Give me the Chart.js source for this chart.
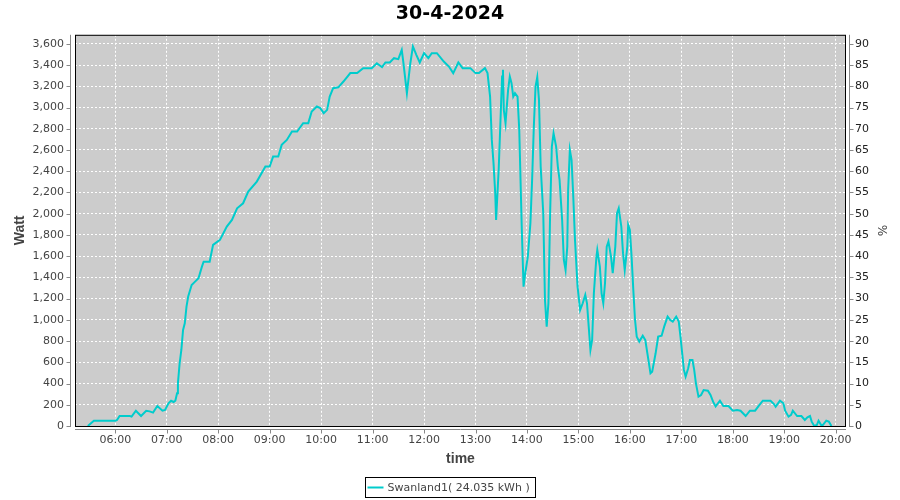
<!DOCTYPE html>
<html>
<head>
<meta charset="utf-8">
<script src="https://cdn.jsdelivr.net/npm/chart.js@4.4.1/dist/chart.umd.min.js"></script>
<style>
  html, body { margin: 0; padding: 0; background: #fff; }
  #wrap { width: 900px; height: 500px; }
</style>
</head>
<body>
<div id="wrap"><canvas id="powerChart" width="900" height="500"></canvas></div>
<script>
const chartTitle = '30-4-2024';
const seriesName = 'Swanland1( 24.035 kWh )';

// sample times (HH:MM) and the power read at each one
const times = [
  '05:28','05:35','06:00','06:02','06:05','06:17','06:19','06:24','06:30','06:36','06:40','06:44','06:49','06:55','06:58',
  '07:02','07:05','07:08','07:10','07:12','07:13','07:15','07:17','07:19','07:21','07:23','07:25','07:29','07:33','07:37',
  '07:41','07:43','07:50','07:54','08:02','08:10','08:16','08:22','08:29','08:35','08:45','08:55','09:00','09:04','09:10',
  '09:14','09:20','09:26','09:32','09:39','09:45','09:49','09:55','09:59','10:03','10:07','10:10','10:14','10:20','10:26',
  '10:34','10:42','10:49','10:59','11:05','11:11','11:15','11:20','11:25','11:30','11:34','11:36','11:40','11:44','11:47',
  '11:51','11:55','12:00','12:05','12:09','12:15','12:23','12:29','12:34','12:40','12:45','12:54','13:00','13:04','13:11',
  '13:14','13:17','13:19','13:21','13:23','13:24','13:27','13:29','13:31','13:32','13:33','13:35','13:38','13:40','13:42',
  '13:44','13:46','13:49','13:51','13:53','13:54','13:56','13:58','14:01','14:04','14:06','14:08','14:10','14:12','14:14',
  '14:16','14:19','14:21','14:23','14:25','14:27','14:29','14:31','14:34','14:36','14:38','14:41','14:43','14:45','14:47',
  '14:48','14:50','14:52','14:54','14:56','14:59','15:02','15:05','15:08','15:10','15:12','15:14','15:16','15:18','15:21',
  '15:22','15:25','15:27','15:29','15:31','15:33','15:35','15:38','15:40','15:43','15:45','15:47','15:50','15:52','15:54',
  '15:57','15:58','16:00','16:02','16:04','16:06','16:08','16:11','16:15','16:18','16:21','16:24','16:26','16:30','16:33',
  '16:37','16:40','16:44','16:47','16:50','16:54','16:57','16:59','17:01','17:03','17:05','17:08','17:10','17:13','17:15',
  '17:17','17:20','17:23','17:26','17:31','17:34','17:37','17:40','17:45','17:49','17:55','18:00','18:05','18:09','18:15',
  '18:20','18:26','18:30','18:35','18:44','18:48','18:50','18:55','18:59','19:01','19:05','19:08','19:10','19:15','19:20',
  '19:24','19:27','19:30','19:32','19:35','19:38','19:40','19:43','19:45','19:49','19:52','19:55'
];
const watts = [
  0, 50, 50, 57, 94, 94, 88, 144, 94, 144, 138, 126, 188, 144, 151,
  214, 238, 226, 238, 308, 402, 591, 716, 905, 968, 1124, 1219, 1329, 1360, 1392,
  1501, 1548, 1548, 1706, 1753, 1878, 1941, 2051, 2098, 2208, 2302, 2444, 2444, 2538, 2538,
  2648, 2695, 2774, 2774, 2853, 2853, 2962, 3009, 2994, 2947, 2978, 3103, 3182, 3190, 3245,
  3324, 3324, 3371, 3371, 3417, 3380, 3424, 3424, 3465, 3456, 3543, 3417, 3135, 3417, 3575,
  3496, 3424, 3512, 3465, 3512, 3512, 3433, 3386, 3324, 3424, 3371, 3371, 3324, 3324, 3371,
  3324, 3103, 2695, 2476, 2193, 1940, 2412, 2853, 3292, 3355, 2978, 2853, 3166, 3292, 3229,
  3103, 3135, 3103, 2790, 2161, 1847, 1313, 1439, 1596, 1910, 2318, 2821, 3198, 3286, 3072,
  2444, 2004, 1187, 936, 1156, 2004, 2632, 2758, 2632, 2444, 2318, 1941, 1564, 1470, 1690,
  2224, 2601, 2507, 2161, 1753, 1313, 1093, 1156, 1235, 1156, 936, 716, 810, 1250, 1596,
  1659, 1501, 1250, 1156, 1345, 1690, 1737, 1596, 1439, 1690, 2004, 2051, 1878, 1628, 1470,
  1690, 1894, 1847, 1596, 1282, 999, 842, 795, 851, 810, 653, 497, 512, 685, 842,
  851, 936, 1030, 999, 983, 1030, 983, 842, 685, 528, 465, 544, 622, 622, 528,
  402, 276, 292, 339, 333, 292, 229, 185, 238, 188, 188, 144, 151, 144, 94,
  144, 144, 188, 238, 238, 207, 182, 238, 214, 144, 88, 104, 144, 94, 94,
  57, 82, 94, 41, 0, 9, 50, 9, 9, 50, 41, 0
];

const hourTicks = ['06:00','07:00','08:00','09:00','10:00','11:00','12:00','13:00','14:00','15:00','16:00','17:00','18:00','19:00','20:00'];

// axis ranges
const timeStart = '05:13';
const timeEnd = '20:12';
const wattMax = 3685;
const wattPerPercent = 40;   // right axis: 3600 W = 90 %

function toMinutes(hhmm) {
  const parts = hhmm.split(':');
  return parseInt(parts[0]) * 60 + parseInt(parts[1]);
}

function minutesToLabel(m) {
  const h = Math.floor(m / 60);
  const mm = Math.round(m % 60);
  return String(h).padStart(2, '0') + ':' + String(mm).padStart(2, '0');
}

const points = times.map((t, i) => ({ x: toMinutes(t), y: watts[i] }));

const LINE_COLOR = '#00cccc';
const AXIS_GRAY = '#888888';
const TICK_FONT = { family: 'DejaVu Sans', size: 11 };

// gray plot background, black frame, detached axis lines and the boxed legend
const plotDecor = {
  id: 'plotDecor',
  beforeDraw(chart) {
    const { ctx, chartArea: a } = chart;
    ctx.save();
    ctx.fillStyle = '#cccccc';
    ctx.fillRect(a.left, a.top, a.right - a.left, a.bottom - a.top);
    ctx.restore();
  },
  afterDatasetsDraw(chart) {
    const { ctx, chartArea: a } = chart;
    ctx.save();
    ctx.strokeStyle = '#000';
    ctx.lineWidth = 1;
    ctx.strokeRect(a.left + 0.5, a.top + 0.5, a.right - a.left - 1, a.bottom - a.top);
    ctx.restore();
  },
  afterDraw(chart) {
    const { ctx, chartArea: a, scales } = chart;
    ctx.save();
    ctx.strokeStyle = AXIS_GRAY;
    ctx.lineWidth = 1;
    ctx.beginPath();
    // left axis
    const lx = a.left - 4.5;
    ctx.moveTo(lx, a.top); ctx.lineTo(lx, a.bottom + 1);
    scales.y.ticks.forEach(t => {
      const py = Math.round(scales.y.getPixelForValue(t.value)) + 0.5;
      ctx.moveTo(lx - 4, py); ctx.lineTo(lx, py);
    });
    // right axis
    const rx = a.right + 3.5;
    ctx.moveTo(rx, a.top); ctx.lineTo(rx, a.bottom + 1);
    scales.y2.ticks.forEach(t => {
      const py = Math.round(scales.y2.getPixelForValue(t.value)) + 0.5;
      ctx.moveTo(rx, py); ctx.lineTo(rx + 4, py);
    });
    // bottom axis
    const by = a.bottom + 3.5;
    ctx.moveTo(a.left, by); ctx.lineTo(a.right, by);
    scales.x.ticks.forEach(t => {
      const px = Math.round(scales.x.getPixelForValue(t.value)) + 0.5;
      ctx.moveTo(px, by); ctx.lineTo(px, by + 4);
    });
    ctx.stroke();

    // legend
    const label = chart.data.datasets[0].label;
    ctx.font = '11px "DejaVu Sans"';
    const textW = ctx.measureText(label).width;
    const boxW = Math.round(3 + 16 + 4 + textW + 5);
    const boxH = 20;
    const bx = Math.round(450 - boxW / 2) + 0.5;
    const byTop = 477.5;
    ctx.strokeStyle = '#000';
    ctx.strokeRect(bx, byTop, boxW, boxH);
    ctx.strokeStyle = LINE_COLOR;
    ctx.lineWidth = 2;
    ctx.beginPath();
    ctx.moveTo(bx + 2, byTop + 10);
    ctx.lineTo(bx + 18, byTop + 10);
    ctx.stroke();
    ctx.fillStyle = '#444';
    ctx.textBaseline = 'middle';
    ctx.textAlign = 'left';
    ctx.fillText(label, bx + 22, byTop + 10.5);
    ctx.restore();
  }
};

const ctx = document.getElementById('powerChart').getContext('2d');
const powerChart = new Chart(ctx, {
  type: 'line',
  data: {
    datasets: [{
      label: seriesName,
      data: points,
      borderColor: LINE_COLOR,
      backgroundColor: LINE_COLOR,
      borderWidth: 2,
      pointRadius: 0,
      tension: 0,
      fill: false
    }]
  },
  options: {
    responsive: false,
    animation: false,
    devicePixelRatio: 1,
    layout: { padding: 0 },
    plugins: {
      legend: { display: false },
      tooltip: { enabled: false },
      title: {
        display: true,
        text: chartTitle,
        color: '#000',
        font: { family: 'DejaVu Sans', size: 19, weight: 'bold' },
        padding: { top: 3, bottom: 9 }
      }
    },
    scales: {
      x: {
        type: 'linear',
        min: toMinutes(timeStart),
        max: toMinutes(timeEnd),
        afterBuildTicks: scale => {
          scale.ticks = hourTicks.map(h => ({ value: toMinutes(h) }));
        },
        afterFit: scale => { scale.height = 74; },
        grid: { color: '#ffffff', lineWidth: 1, drawTicks: false },
        border: { display: false, dash: [2, 2] },
        ticks: {
          autoSkip: false,
          maxRotation: 0,
          padding: 8,
          color: '#444',
          font: TICK_FONT,
          callback: v => minutesToLabel(v)
        },
        title: {
          display: true,
          text: 'time',
          color: '#444',
          font: { family: 'Liberation Sans', size: 14, weight: 'bold' },
          padding: { top: 0, bottom: 32 }
        }
      },
      y: {
        position: 'left',
        min: 0,
        max: wattMax,
        afterFit: scale => { scale.width = 75; },
        grid: { color: '#ffffff', lineWidth: 1, drawTicks: false },
        border: { display: false, dash: [2, 2] },
        ticks: {
          stepSize: 200,
          includeBounds: false,
          padding: 11,
          color: '#444',
          font: TICK_FONT,
          callback: v => v.toLocaleString('en-US')
        },
        title: {
          display: true,
          text: 'Watt',
          color: '#444',
          font: { family: 'Liberation Sans', size: 14, weight: 'bold' },
          padding: { top: 12, bottom: 0 }
        }
      },
      y2: {
        position: 'right',
        min: 0,
        max: wattMax / wattPerPercent,
        afterFit: scale => { scale.width = 54; },
        grid: { display: false, drawTicks: false },
        border: { display: false },
        ticks: {
          stepSize: 5,
          includeBounds: false,
          padding: 9,
          color: '#222',
          font: TICK_FONT
        },
        title: {
          display: true,
          text: '%',
          color: '#444',
          font: { family: 'DejaVu Sans', size: 12 },
          padding: { top: 12, bottom: 0 }
        }
      }
    }
  },
  plugins: [plotDecor]
});
</script>
</body>
</html>
